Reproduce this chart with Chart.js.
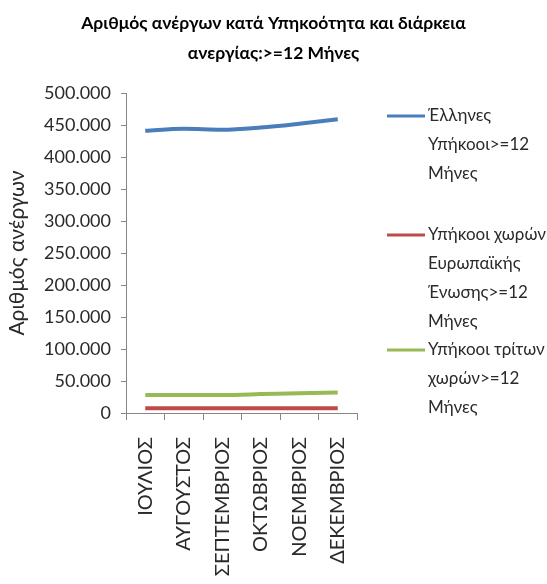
<!DOCTYPE html>
<html>
<head>
<meta charset="utf-8">
<script src="https://cdn.jsdelivr.net/npm/chart.js@4"></script>
<style>
  html, body { margin: 0; padding: 0; background: #fff; overflow: hidden; }
  #wrap { width: 547px; height: 584px; }
</style>
</head>
<body>
<div id="wrap"><canvas id="chart"></canvas></div>
<script>
// Long-term unemployed (>= 12 months) by citizenship, Jul–Dec
const months = ['ΙΟΥΛΙΟΣ', 'ΑΥΓΟΥΣΤΟΣ', 'ΣΕΠΤΕΜΒΡΙΟΣ', 'ΟΚΤΩΒΡΙΟΣ', 'ΝΟΕΜΒΡΙΟΣ', 'ΔΕΚΕΜΒΡΙΟΣ'];
const greeks = [441000, 444000, 442500, 446000, 452000, 459000];
const euCitizens = [7500, 7500, 7400, 7400, 7500, 7500];
const thirdCountry = [28000, 28000, 28200, 29500, 31000, 32000];

const seriesNames = [
  ['Έλληνες', 'Υπήκοοι>=12', 'Μήνες'],
  ['Υπήκοοι χωρών', 'Ευρωπαϊκής', 'Ένωσης>=12', 'Μήνες'],
  ['Υπήκοοι τρίτων', 'χωρών>=12', 'Μήνες']
];

const FONT = 'Lato, "Open Sans", sans-serif';
const TEXT = '#2a2a2a';

// thousands with a dot, as in el-GR
function fmt(v) {
  return String(v).replace(/\B(?=(\d{3})+(?!\d))/g, '.');
}

// multi-line legend on the right of the plot
const sideLegend = {
  id: 'sideLegend',
  afterDraw(chart, args, opts) {
    const ctx = chart.ctx;
    ctx.save();
    ctx.font = opts.fontSize + 'px ' + FONT;
    ctx.textBaseline = 'middle';
    ctx.fillStyle = TEXT;
    chart.data.datasets.forEach((ds, i) => {
      const y0 = opts.tops[i];
      ctx.strokeStyle = ds.borderColor;
      ctx.lineWidth = 3;
      ctx.beginPath();
      ctx.moveTo(opts.x, y0);
      ctx.lineTo(opts.x + 38, y0);
      ctx.stroke();
      const lines = Array.isArray(ds.label) ? ds.label : [ds.label];
      lines.forEach((t, j) => ctx.fillText(t, opts.x + 41, y0 + j * opts.lineGap));
    });
    ctx.restore();
  }
};

const lineStyle = { borderWidth: 4, pointRadius: 0, tension: 0.4, cubicInterpolationMode: 'monotone', fill: false };

new Chart(document.getElementById('chart'), {
  type: 'line',
  data: {
    labels: months,
    datasets: [
      { label: seriesNames[0], data: greeks, borderColor: '#4a7ebb', ...lineStyle },
      { label: seriesNames[1], data: euCitizens, borderColor: '#be4b48', ...lineStyle },
      { label: seriesNames[2], data: thirdCountry, borderColor: '#98b954', ...lineStyle }
    ]
  },
  options: {
    responsive: true,
    maintainAspectRatio: false,
    animation: false,
    layout: { padding: 0 },
    plugins: {
      legend: { display: false },
      tooltip: { enabled: false },
      title: {
        display: true,
        text: ['Αριθμός ανέργων κατά Υπηκοότητα και διάρκεια', 'ανεργίας:>=12 Μήνες'],
        color: '#000',
        font: { family: FONT, size: 17.5, weight: 'bold', lineHeight: 30 / 17.5 },
        padding: { top: 8, bottom: 25 }
      },
      sideLegend: { x: 387, tops: [116, 235, 350], lineGap: 29, fontSize: 17 }
    },
    scales: {
      x: {
        offset: true,
        grid: { offset: true, drawOnChartArea: false, drawTicks: true, tickLength: 7, color: '#868686' },
        border: { color: '#868686' },
        ticks: {
          color: TEXT,
          font: { family: FONT, size: 20 },
          minRotation: 90,
          maxRotation: 90,
          padding: 17
        },
        afterFit(scale) { scale.height = 171; }
      },
      y: {
        min: 0,
        max: 500000,
        grid: { drawOnChartArea: false, drawTicks: true, tickLength: 5, color: '#868686' },
        border: { color: '#868686' },
        ticks: {
          stepSize: 50000,
          color: TEXT,
          font: { family: FONT, size: 18 },
          padding: 10,
          callback: v => fmt(v)
        },
        title: {
          display: true,
          text: 'Αριθμός ανέργων',
          color: TEXT,
          font: { family: FONT, size: 21 },
          padding: { top: 5, bottom: 0 }
        },
        afterFit(scale) { scale.width = 126; }
      },
      // empty right-hand axis that reserves room for the legend
      legendSpace: {
        type: 'linear',
        position: 'right',
        grid: { display: false },
        border: { display: false },
        ticks: { display: false },
        afterFit(scale) { scale.width = 190; }
      }
    }
  },
  plugins: [sideLegend]
});
</script>
</body>
</html>
